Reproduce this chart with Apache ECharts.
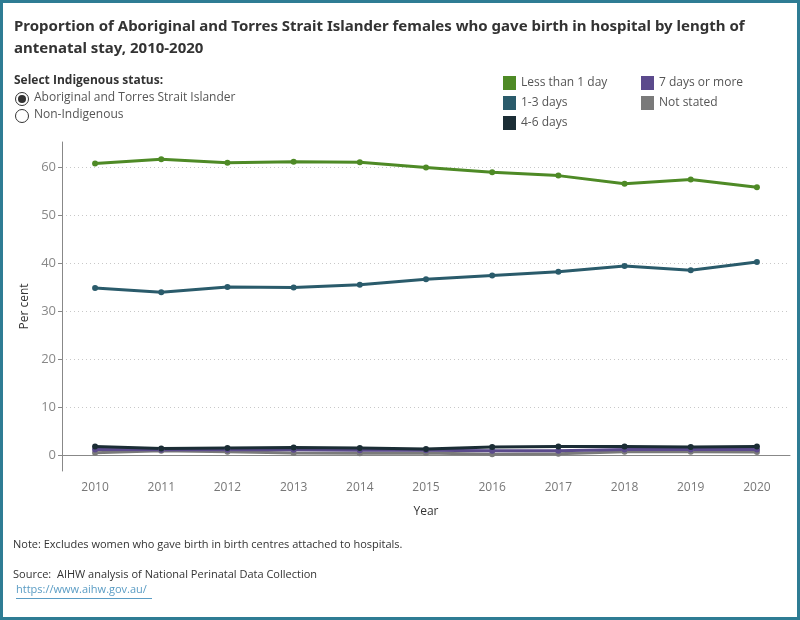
<!DOCTYPE html>
<html>
<head>
<meta charset="utf-8">
<script src="https://cdn.jsdelivr.net/npm/echarts@6/dist/echarts.min.js"></script>
<style>
  html, body { margin: 0; padding: 0; background: #fff; }
  #wrap { position: relative; width: 800px; height: 620px; }
  #chart { width: 800px; height: 620px; }
  #frame {
    position: absolute; left: 0; top: 0; width: 800px; height: 620px;
    box-sizing: border-box; border: 3px solid #2e7c94; pointer-events: none;
  }
</style>
</head>
<body>
<div id="wrap">
  <div id="chart"></div>
  <div id="frame"></div>
</div>
<script>
const years = ['2010', '2011', '2012', '2013', '2014', '2015', '2016', '2017', '2018', '2019', '2020']
const yTicks = [0, 10, 20, 30, 40, 50, 60]

const lessThan1Day = [60.8, 61.7, 61.0, 61.2, 61.1, 60.0, 59.0, 58.3, 56.6, 57.5, 55.9]
const days1to3 = [34.9, 34.0, 35.1, 35.0, 35.6, 36.7, 37.5, 38.3, 39.5, 38.6, 40.3]
const days4to6 = [1.9, 1.5, 1.6, 1.7, 1.6, 1.4, 1.8, 1.9, 1.9, 1.8, 1.9]
const days7plus = [1.3, 1.2, 1.2, 1.2, 1.1, 1.1, 1.0, 1.0, 1.3, 1.3, 1.3]
const notStated = [0.6, 1.0, 0.8, 0.55, 0.5, 0.55, 0.3, 0.4, 0.8, 0.8, 0.75]

const colors = {
  'Less than 1 day': '#4e8a26',
  '1-3 days': '#2a5b6b',
  '4-6 days': '#1b2d35',
  '7 days or more': '#5b4a8c',
  'Not stated': '#7a7a7a',
}

function lineSeries(name, data) {
  return {
    name,
    type: 'line',
    data,
    symbol: 'circle',
    symbolSize: 6,
    lineStyle: { width: 3, color: colors[name] },
    itemStyle: { color: colors[name] },
  }
}

const font = 'Open Sans, Noto Sans, sans-serif'
const chart = echarts.init(document.getElementById('chart'))

chart.setOption({
  animation: false,
  textStyle: { fontFamily: font },
  title: {
    text: 'Proportion of Aboriginal and Torres Strait Islander females who gave birth in hospital by length of\nantenatal stay, 2010-2020',
    left: 14,
    top: 16,
    padding: 0,
    textStyle: { fontSize: 15, fontWeight: 'bold', color: '#333', lineHeight: 22, fontFamily: 'Noto Sans' },
  },
  legend: [
    {
      data: ['Less than 1 day', '1-3 days', '4-6 days'],
      orient: 'vertical',
      left: 498,
      top: 71,
      itemWidth: 13,
      itemHeight: 14,
      itemGap: 6,
      icon: 'rect',
      textStyle: { fontSize: 12, color: '#555', fontFamily: font },
    },
    {
      data: ['7 days or more', 'Not stated'],
      orient: 'vertical',
      left: 636,
      top: 71,
      itemWidth: 13,
      itemHeight: 14,
      itemGap: 6,
      icon: 'rect',
      textStyle: { fontSize: 12, color: '#555', fontFamily: font },
    },
  ],
  grid: { left: 62, right: 10, top: 142, bottom: 149 },
  xAxis: {
    type: 'category',
    data: years,
    boundaryGap: true,
    name: 'Year',
    nameLocation: 'middle',
    nameGap: 35,
    nameTextStyle: { fontSize: 12, color: '#333' },
    axisLine: { lineStyle: { color: '#888' } },
    axisTick: { alignWithLabel: true, length: 4, lineStyle: { color: '#888' } },
    axisLabel: { fontSize: 12, color: '#777', margin: 11 },
  },
  yAxis: {
    type: 'value',
    min: -3.2,
    max: 65.3,
    name: 'Per cent',
    nameLocation: 'middle',
    nameRotate: 90,
    nameGap: 30,
    nameTextStyle: { fontSize: 12, color: '#333' },
    axisLine: { show: true, lineStyle: { color: '#888' } },
    axisTick: { show: true, length: 4, customValues: yTicks, lineStyle: { color: '#888' } },
    axisLabel: { fontSize: 13, color: '#888', margin: 6, customValues: yTicks },
    splitLine: { show: true, lineStyle: { type: [1, 3], color: '#c8c8c8' } },
  },
  series: [
    lineSeries('Not stated', notStated),
    lineSeries('7 days or more', days7plus),
    lineSeries('1-3 days', days1to3),
    lineSeries('Less than 1 day', lessThan1Day),
    lineSeries('4-6 days', days4to6),
  ],
  graphic: [
    { type: 'text', left: 14, top: 75, style: { text: 'Select Indigenous status:', fontSize: 12, fontWeight: 'bold', fill: '#333', fontFamily: font } },
    { type: 'circle', shape: { cx: 22, cy: 99, r: 6.5 }, style: { fill: '#fff', stroke: '#333', lineWidth: 1 } },
    { type: 'circle', shape: { cx: 22, cy: 99, r: 4 }, style: { fill: '#333' } },
    { type: 'text', left: 34, top: 92, style: { text: 'Aboriginal and Torres Strait Islander', fontSize: 12, fill: '#555', fontFamily: font } },
    { type: 'circle', shape: { cx: 22, cy: 116, r: 6.5 }, style: { fill: '#fff', stroke: '#333', lineWidth: 1 } },
    { type: 'text', left: 34, top: 109, style: { text: 'Non-Indigenous', fontSize: 12, fill: '#555', fontFamily: font } },
    { type: 'text', left: 13, top: 539, style: { text: 'Note: Excludes women who gave birth in birth centres attached to hospitals.', fontSize: 11, fill: '#333', fontFamily: font } },
    { type: 'text', left: 13, top: 569, style: { text: 'Source:  AIHW analysis of National Perinatal Data Collection', fontSize: 11, fill: '#333', fontFamily: font } },
    { type: 'text', left: 16, top: 584, style: { text: 'https://www.aihw.gov.au/', fontSize: 11, fill: '#5a9cc4', fontFamily: font } },
    { type: 'rect', shape: { x: 16, y: 598, width: 136, height: 1 }, style: { fill: '#5a9cc4' } },
  ],
})
</script>
</body>
</html>
